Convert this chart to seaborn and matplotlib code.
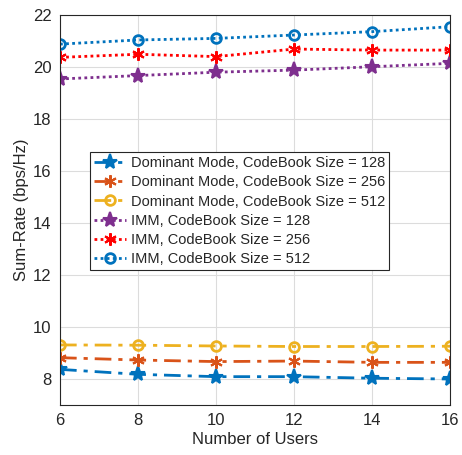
import matplotlib
matplotlib.use("Agg")
import matplotlib.pyplot as plt
import seaborn as sns
import pandas as pd

users = [6, 8, 10, 12, 14, 16]
dm_128 = [8.37, 8.18, 8.09, 8.09, 8.03, 8.00]
dm_256 = [8.82, 8.73, 8.67, 8.69, 8.64, 8.64]
dm_512 = [9.31, 9.30, 9.27, 9.25, 9.25, 9.26]
imm_128 = [19.54, 19.67, 19.80, 19.88, 20.01, 20.14]
imm_256 = [20.37, 20.49, 20.40, 20.69, 20.65, 20.65]
imm_512 = [20.88, 21.04, 21.10, 21.23, 21.36, 21.55]
labels = ["Dominant Mode, CodeBook Size = 128",
          "Dominant Mode, CodeBook Size = 256",
          "Dominant Mode, CodeBook Size = 512",
          "IMM, CodeBook Size = 128",
          "IMM, CodeBook Size = 256",
          "IMM, CodeBook Size = 512"]
series = [dm_128, dm_256, dm_512, imm_128, imm_256, imm_512]

sns.set_theme(style="white")
plt.rcParams['font.family'] = ['Liberation Sans', 'DejaVu Sans']

colors = ["#0072BD", "#D95319", "#EDB120", "#7E2F8E", "#FF0000", "#0072BD"]
asterisk = (6, 2, 0)
markers = ["*", asterisk, "o", "*", asterisk, "o"]
msizes = [11, 9, 7, 11, 9, 7]
lstyles = [(0, (6, 2.5, 1.5, 2.5)), (0, (6, 2.5, 1.5, 2.5)), (0, (6, 2.5, 1.5, 2.5)),
           (0, (1, 1.2)), (0, (1, 1.2)), (0, (1, 1.2))]

fig = plt.figure(figsize=(4.62, 4.55), dpi=100)
ax = fig.add_axes([60/462, 1-405/455, 390/462, 390/455])

for lab, vals, c, m, ms, ls in zip(labels, series, colors, markers, msizes, lstyles):
    df = pd.DataFrame({"x": users, "y": vals})
    open_m = (m == "o")
    sns.lineplot(data=df, x="x", y="y", ax=ax, color=c, linestyle=ls, linewidth=2,
                 marker=m, markersize=ms,
                 markerfacecolor="none" if open_m else c,
                 markeredgecolor=c, markeredgewidth=2 if open_m else 1.5,
                 label=lab)

ax.set_xlim(6, 16)
ax.set_ylim(7, 22)
ax.set_xticks(users)
ax.set_yticks([8, 10, 12, 14, 16, 18, 20, 22])
ax.grid(True, color="#dcdcdc", linewidth=0.8)
ax.tick_params(direction="in", length=4, labelsize=12, colors="#262626", width=0.8, pad=6)
for s in ax.spines.values():
    s.set_color("#262626")
    s.set_linewidth(0.8)
ax.set_xlabel("Number of Users", fontsize=12, color="#262626", labelpad=3)
ax.set_ylabel("Sum-Rate (bps/Hz)", fontsize=12, color="#262626", labelpad=3)

leg = ax.legend(loc="upper left", bbox_to_anchor=(30/390, (405-152)/390), fontsize=10.5,
                frameon=True, fancybox=False, edgecolor="#262626", framealpha=1,
                handlelength=2.2, handletextpad=0.3, labelspacing=0.35, borderpad=0.3,
                borderaxespad=0)
leg.get_frame().set_linewidth(0.8)

fig.savefig("out.png", dpi=100)
